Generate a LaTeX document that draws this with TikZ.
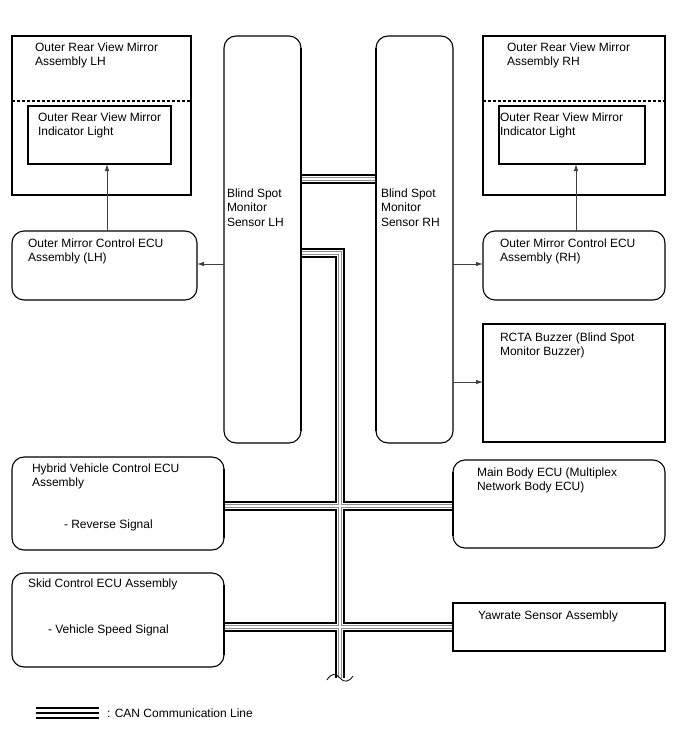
\documentclass[tikz,border=0pt]{standalone}
\usepackage{fontspec}
\setmainfont{Liberation Sans}
\usetikzlibrary{arrows.meta,calc}
\begin{document}
\begin{tikzpicture}[x=1pt,y=-1pt,
  box/.style={draw=black, line width=1.1pt, fill=white, anchor=north west, inner sep=0pt, outer sep=0pt},
  rbox/.style={box, rounded corners=12pt},
  txt/.style={anchor=north west, inner sep=0pt, outer sep=0pt, align=left, font=\fontsize{12}{14.5}\selectfont},
  arr/.style={draw=black!75, line width=0.8pt, -{Latex[length=7pt,width=4.5pt]}},
  canbus/.style={line width=10.5pt, draw=black, line cap=butt, line join=miter,
    postaction={draw=white, line width=6.6pt, line cap=butt, line join=miter,
      postaction={draw=black!45, line width=4pt, line cap=butt, line join=miter,
        postaction={draw=white, line width=1.5pt, line cap=butt, line join=miter}}}},
  legline/.style={draw=black, line width=2.6pt, line cap=butt}
]
\useasboundingbox (0,0) rectangle (688,755);

% helper coordinates (y levels)
\coordinate (ySR) at (0,179);
\coordinate (ySL) at (0,253);
\coordinate (yHY) at (0,506);
\coordinate (ySK) at (0,627);
\coordinate (yA1) at (0,264);
\coordinate (yA2) at (0,382);
\coordinate (busTop) at (340,253);
\coordinate (busEnd) at (340,678);

% boxes
\node[rbox, minimum width=77pt, minimum height=407pt] (senL) at (224,36) {};
\node[rbox, minimum width=77pt, minimum height=407pt] (senR) at (376,36) {};
\node[box, minimum width=179pt, minimum height=159pt] (mirL) at (12,36) {};
\node[box, minimum width=143pt, minimum height=58pt] (indL) at (28,106) {};
\node[box, minimum width=182pt, minimum height=159pt] (mirR) at (483,36) {};
\node[box, minimum width=146pt, minimum height=58pt] (indR) at (499,106) {};
\node[rbox, minimum width=185pt, minimum height=69pt] (ecuL) at (12,231) {};
\node[rbox, minimum width=182pt, minimum height=69pt] (ecuR) at (483,231) {};
\node[box, minimum width=182pt, minimum height=118pt] (rcta) at (483,324) {};
\node[rbox, minimum width=212pt, minimum height=93pt] (hyb) at (12,457) {};
\node[rbox, minimum width=212pt, minimum height=88pt] (main) at (453,460) {};
\node[rbox, minimum width=212pt, minimum height=94pt] (skid) at (12,573) {};
\node[box, minimum width=212pt, minimum height=48pt] (yaw) at (453,603) {};

% dashed separators
\draw[line width=1.1pt, dash pattern=on 3pt off 2pt] (mirL.west |- 0,101) -- (mirL.east |- 0,101);
\draw[line width=1.1pt, dash pattern=on 3pt off 2pt] (mirR.west |- 0,101) -- (mirR.east |- 0,101);

% CAN bus (one path so junctions merge)
\draw[canbus]
  (senL.east |- ySR) -- (senR.west |- ySR)
  (senL.east |- ySL) -- (busTop) -- (busEnd)
  (hyb.east |- yHY) -- (main.west |- yHY)
  (skid.east |- ySK) -- (yaw.west |- ySK);
% redraw borders touched by the bus
\draw[line width=1.1pt] (senL.north east) ++(0,12) -- ($(senL.south east)+(0,-12)$);
\draw[line width=1.1pt] (senR.north west) ++(0,12) -- ($(senR.south west)+(0,-12)$);
\draw[line width=1.1pt] ($(hyb.north east)+(0,12)$) -- ($(hyb.south east)+(0,-12)$);
\draw[line width=1.1pt] ($(skid.north east)+(0,12)$) -- ($(skid.south east)+(0,-12)$);
\draw[line width=1.1pt] ($(main.north west)+(0,12)$) -- ($(main.south west)+(0,-12)$);
\draw[line width=1.1pt] (yaw.north west) -- (yaw.south west);

% break mark at the bus end
\draw[line width=0.8pt] (327,680) .. controls (331,673) and (336,673) .. (340,678)
  .. controls (344,683) and (349,682) .. (353,676);

% arrows
\draw[arr] (senL.west |- yA1) -- (ecuL.east |- yA1);
\draw[arr] (senR.east |- yA1) -- (ecuR.west |- yA1);
\draw[arr] (senR.east |- yA2) -- (rcta.west |- yA2);
\draw[arr] (ecuL.north -| 107,0) -- (indL.south -| 107,0);
\draw[arr] (ecuR.north -| 576,0) -- (indR.south -| 576,0);

% texts
\node[txt] (tMirL) at (35,42.7) {Outer Rear View Mirror\\Assembly LH};
\node[txt] (tIndL) at (38,112.7) {Outer Rear View Mirror\\Indicator Light};
\node[txt] (tMirR) at (507,42.7) {Outer Rear View Mirror\\Assembly RH};
\node[txt] (tIndR) at (500,112.7) {Outer Rear View Mirror\\Indicator Light};
\node[txt] (tSenL) at (227,188.7) {Blind Spot\\Monitor\\Sensor LH};
\node[txt] (tSenR) at (381,188.7) {Blind Spot\\Monitor\\Sensor RH};
\node[txt] (tEcuL) at (28,238.7) {Outer Mirror Control ECU\\Assembly (LH)};
\node[txt] (tEcuR) at (500,238.7) {Outer Mirror Control ECU\\Assembly (RH)};
\node[txt] (tRcta) at (500,332.7) {RCTA Buzzer (Blind Spot\\Monitor Buzzer)};
\node[txt] (tHyb) at (32,463.7) {Hybrid Vehicle Control ECU\\Assembly};
\node[txt] (tRev) at (64,519.7) {- Reverse Signal};
\node[txt] (tMain) at (477,467.7) {Main Body ECU (Multiplex\\Network Body ECU)};
\node[txt] (tSkid) at (28,578.7) {Skid Control ECU Assembly};
\node[txt] (tSpd) at (48,624.7) {- Vehicle Speed Signal};
\node[txt] (tYaw) at (478,610.7) {Yawrate Sensor Assembly};

% legend
\coordinate (legL) at (36,713);
\coordinate (legR) at (99,713);
\draw[legline] ($(legL)+(0,-5)$) -- ($(legR)+(0,-5)$)
  (legL) -- (legR)
  ($(legL)+(0,5)$) -- ($(legR)+(0,5)$);
\node[txt, anchor=west] (tLeg) at (107,713) {: CAN Communication Line};
\end{tikzpicture}
\end{document}
